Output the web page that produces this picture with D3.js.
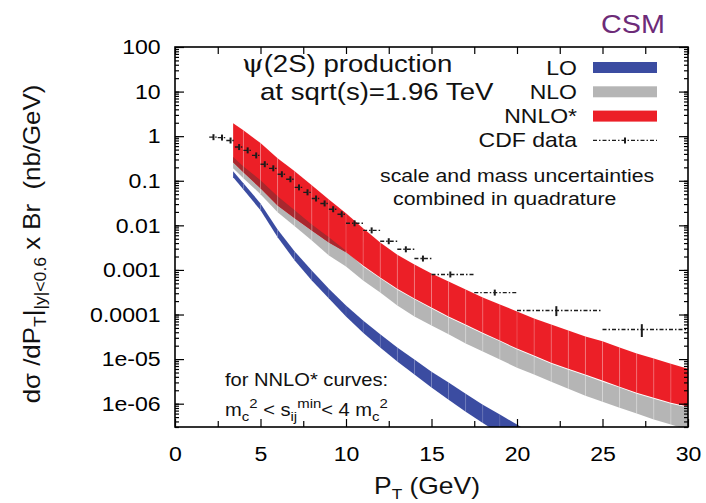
<!DOCTYPE html>
<html>
<head>
<meta charset="utf-8">
<script src="https://cdn.jsdelivr.net/npm/d3@7"></script>
<style>
  body { margin: 0; background: #fff; }
  svg { display: block; font-family: "Liberation Sans", Arial, sans-serif; }
</style>
</head>
<body>
<svg></svg>
<script>
// Size of the picture
const width = 706;
const height = 503;
const sx = 1.15; // the original lettering is a bit wide

// Theory bands (nb/GeV), on a pT grid in GeV
const bandPt = [3.4, 4, 5, 6, 7, 8, 9, 10, 11, 12, 13, 14, 15, 16, 17, 18, 19, 20, 21, 22, 23, 24, 25, 26, 27, 28, 29, 30];
const nnloHi = [1.96, 1.36, 0.70, 0.32, 0.163, 0.079, 0.038, 0.0186, 0.0086, 0.0041, 0.0022, 0.00133, 8.3e-4, 5.5e-4, 3.65e-4, 2.4e-4, 1.68e-4, 1.17e-4, 8.1e-5, 6.0e-5, 4.4e-5, 3.2e-5, 2.5e-5, 1.81e-5, 1.33e-5, 1.03e-5, 7.9e-6, 6.1e-6];
const nnloLo = [0.26, 0.155, 0.068, 0.028, 0.0144, 0.0077, 0.0041, 0.0025, 0.00126, 6.8e-4, 3.8e-4, 2.3e-4, 1.44e-4, 9.0e-5, 6.0e-5, 3.9e-5, 2.6e-5, 1.72e-5, 1.20e-5, 8.3e-6, 6.1e-6, 4.5e-6, 3.3e-6, 2.4e-6, 1.77e-6, 1.36e-6, 1.05e-6, 8.6e-7];
const nloHi = [0.34, 0.21, 0.103, 0.045, 0.0217, 0.0105, 0.0054, 0.0027, 0.0012, 6.5e-4, 3.6e-4, 2.2e-4, 1.37e-4, 8.6e-5, 5.7e-5, 3.7e-5, 2.5e-5, 1.64e-5, 1.14e-5, 7.9e-6, 5.8e-6, 4.3e-6, 3.1e-6, 2.3e-6, 1.68e-6, 1.29e-6, 1.0e-6, 8.2e-7];
const nloLo = [0.19, 0.114, 0.050, 0.0196, 0.0095, 0.0046, 0.0021, 0.0012, 5.8e-4, 3.1e-4, 1.59e-4, 9.0e-5, 5.7e-5, 3.6e-5, 2.23e-5, 1.48e-5, 9.8e-6, 6.4e-6, 4.5e-6, 3.1e-6, 2.17e-6, 1.51e-6, 1.11e-6, 8.1e-7, 6.0e-7, 4.4e-7, 3.4e-7, 2.6e-7];

// LO leaves the frame near 20 GeV
const loPt = [3.4, 4, 5, 6, 7, 8, 9, 10, 11, 12, 13, 14, 15, 16, 17, 18, 19, 20, 21];
const loHi = [0.163, 0.088, 0.031, 0.0081, 0.0026, 9.7e-4, 3.8e-4, 1.59e-4, 7.3e-5, 3.6e-5, 1.81e-5, 9.8e-6, 5.2e-6, 3.0e-6, 1.68e-6, 9.5e-7, 5.7e-7, 3.4e-7, 2.0e-7];
const loLo = [0.12, 0.064, 0.0217, 0.0054, 0.00163, 5.8e-4, 2.3e-4, 9.0e-5, 3.9e-5, 1.81e-5, 8.8e-6, 4.5e-6, 2.3e-6, 1.23e-6, 6.6e-7, 3.7e-7, 2.1e-7, 1.2e-7, 6.8e-8];

// CDF data points with bins and relative errors
const cdfPt = [2.25, 2.75, 3.25, 3.75, 4.25, 4.75, 5.25, 5.75, 6.25, 6.75, 7.25, 7.75, 8.25, 8.75, 9.25, 9.75, 10.5, 11.5, 12.5, 13.5, 14.5, 16.1, 18.7, 22.3, 27.3];
const cdfBinLo = [2, 2.5, 3, 3.5, 4, 4.5, 5, 5.5, 6, 6.5, 7, 7.5, 8, 8.5, 9, 9.5, 10, 11, 12, 13, 14, 15, 17.5, 20, 25];
const cdfBinHi = [2.5, 3, 3.5, 4, 4.5, 5, 5.5, 6, 6.5, 7, 7.5, 8, 8.5, 9, 9.5, 10, 11, 12, 13, 14, 15, 17.5, 20, 25, 30];
const cdfVal = [0.95, 0.93, 0.80, 0.57, 0.48, 0.37, 0.235, 0.19, 0.14, 0.108, 0.071, 0.055, 0.040, 0.031, 0.023, 0.0177, 0.0111, 0.0077, 0.0044, 0.0029, 0.0018, 7.9e-4, 3.1e-4, 1.23e-4, 4.6e-5];
const cdfErr = [0.06, 0.06, 0.06, 0.06, 0.06, 0.06, 0.06, 0.06, 0.06, 0.06, 0.06, 0.06, 0.07, 0.07, 0.07, 0.07, 0.08, 0.08, 0.09, 0.09, 0.1, 0.1, 0.14, 0.25, 0.32];

// Axis ticks
const yTicks = [1e-6, 1e-5, 1e-4, 1e-3, 0.01, 0.1, 1, 10, 100];
const yTickLabels = ["1e-06", "1e-05", "0.0001", "0.001", "0.01", "0.1", "1", "10", "100"];
const xTicks = [0, 5, 10, 15, 20, 25, 30];
const xMinorTicks = [2.5, 7.5, 12.5, 17.5, 22.5, 27.5];

// Legend
const legendNames = ["LO", "NLO", "NNLO*", "CDF data"];
const legendColors = ["#3b4ca1", "#b5b5b5", "#ec1f27", null];

const blue = "#3b4ca1", grey = "#b5b5b5", red = "#ec1f27", darkRed = "#a8282e";

const svg = d3.select("svg")
    .attr("width", width)
    .attr("height", height);

const x = d3.scaleLinear().domain([0, 30]).range([175, 688]);
const y = d3.scaleLog().domain([3e-7, 100]).range([427, 47]);

svg.append("clipPath").attr("id", "frame")
  .append("rect")
    .attr("x", x(0)).attr("y", y(100))
    .attr("width", x(30) - x(0)).attr("height", y(3e-7) - y(100));

const plot = svg.append("g").attr("clip-path", "url(#frame)");

function rowsOf(pts, lo, hi) {
  return pts.map((p, i) => ({ pt: p, lo: lo[i], hi: hi[i] }));
}

const area = d3.area()
    .defined(d => d.hi > d.lo)
    .x(d => x(d.pt))
    .y0(d => y(d.lo))
    .y1(d => y(d.hi));

// one piece per grid step, like the gnuplot filledcurves
function drawBand(rows, color) {
  const g = plot.append("g");
  g.selectAll("path")
    .data(d3.pairs(rows))
    .enter().append("path")
      .attr("d", d => area(d))
      .attr("fill", color);
  return g;
}

function drawSeams(rows, opacity) {
  plot.append("g").selectAll("line")
    .data(rows.slice(1, -1))
    .enter().append("line")
      .attr("x1", d => x(d.pt)).attr("x2", d => x(d.pt))
      .attr("y1", d => y(d.hi)).attr("y2", d => y(d.lo))
      .attr("stroke", "#fff")
      .attr("stroke-opacity", opacity)
      .attr("stroke-width", 0.8);
}

const nloRows = rowsOf(bandPt, nloLo, nloHi);
const nnloRows = rowsOf(bandPt, nnloLo, nnloHi);
// where the NLO and NNLO* bands overlap the red looks darker
const overlapRows = bandPt.map((p, i) => ({
  pt: p,
  lo: Math.max(nloLo[i], nnloLo[i]),
  hi: Math.min(nloHi[i], nnloHi[i])
}));
const loRows = rowsOf(loPt, loLo, loHi);

drawBand(nloRows, grey);
drawBand(nnloRows, red);
plot.append("path").attr("d", area(overlapRows)).attr("fill", darkRed);
drawSeams(nloRows, 0.3);
drawSeams(nnloRows, 0.25);
drawBand(loRows, blue);
drawSeams(loRows, 0.1);

// CDF data
const cdf = cdfPt.map((p, i) => ({ pt: p, a: cdfBinLo[i], b: cdfBinHi[i], v: cdfVal[i], e: cdfErr[i] }));
const cg = plot.append("g").attr("stroke", "#1c1c1c");
cg.selectAll(".hbar")
  .data(cdf)
  .enter().append("line")
    .attr("x1", d => x(d.a)).attr("x2", d => x(d.b))
    .attr("y1", d => y(d.v)).attr("y2", d => y(d.v))
    .attr("stroke-width", 1.4)
    .attr("stroke-dasharray", "4,2,1.5,2");
cg.selectAll(".vbar")
  .data(cdf)
  .enter().append("line")
    .attr("x1", d => x(d.pt)).attr("x2", d => x(d.pt))
    .attr("y1", d => Math.max(y(d.v * (1 - d.e)), y(d.v) + 3))
    .attr("y2", d => Math.min(y(d.v * (1 + d.e)), y(d.v) - 3))
    .attr("stroke-width", 2);

// Axes, ticks pointing inward on all four sides
function styleAxis(g, labels) {
  g.select(".domain").remove();
  g.selectAll("line").attr("stroke", "#000").attr("stroke-width", 1.2);
  g.attr("font-family", null).attr("font-size", 21);
  if (labels) g.selectAll("text").attr("fill", "#000").attr("transform", "scale(1.1,1)");
}

svg.append("g")
    .attr("transform", `translate(${x(0)},0)`)
    .call(d3.axisLeft(y).tickValues(yTicks).tickFormat((d, i) => yTickLabels[i])
      .tickSizeInner(-9).tickSizeOuter(0).tickPadding(13))
    .call(g => styleAxis(g, true));
svg.append("g")
    .attr("transform", `translate(${x(0)},0)`)
    .call(d3.axisLeft(y).tickValues(y.ticks()).tickFormat("").tickSizeInner(-4).tickSizeOuter(0))
    .call(g => styleAxis(g, false));
svg.append("g")
    .attr("transform", `translate(${x(30)},0)`)
    .call(d3.axisRight(y).tickValues(yTicks).tickFormat("").tickSizeInner(-9).tickSizeOuter(0))
    .call(g => styleAxis(g, false));
svg.append("g")
    .attr("transform", `translate(${x(30)},0)`)
    .call(d3.axisRight(y).tickValues(y.ticks()).tickFormat("").tickSizeInner(-4).tickSizeOuter(0))
    .call(g => styleAxis(g, false));

svg.append("g")
    .attr("transform", `translate(0,${y(3e-7)})`)
    .call(d3.axisBottom(x).tickValues(xTicks).tickSizeInner(-8).tickSizeOuter(0).tickPadding(19))
    .call(g => styleAxis(g, true));
svg.append("g")
    .attr("transform", `translate(0,${y(3e-7)})`)
    .call(d3.axisBottom(x).tickValues(xMinorTicks).tickFormat("").tickSizeInner(-6).tickSizeOuter(0))
    .call(g => styleAxis(g, false));
svg.append("g")
    .attr("transform", `translate(0,${y(100)})`)
    .call(d3.axisTop(x).tickValues(xTicks.concat(xMinorTicks)).tickFormat("").tickSizeInner(-7).tickSizeOuter(0))
    .call(g => styleAxis(g, false));

svg.append("rect")
    .attr("x", x(0)).attr("y", y(100))
    .attr("width", x(30) - x(0)).attr("height", y(3e-7) - y(100))
    .attr("fill", "none").attr("stroke", "#000").attr("stroke-width", 1.6);

// Text helper: wide lettering
function label(px, py, size, anchor) {
  return svg.append("text")
      .attr("transform", `translate(${px},${py}) scale(${sx},1)`)
      .attr("font-size", size)
      .attr("text-anchor", anchor || "start")
      .attr("fill", "#111");
}

// Legend
const leg = svg.append("g");
legendNames.forEach((name, i) => {
  const cy = 67.5 + i * 24.3;
  label(577, cy + 7, 20, "end").text(name);
  if (legendColors[i]) {
    leg.append("rect")
        .attr("x", 593).attr("y", cy - 5.5)
        .attr("width", 64).attr("height", 11)
        .attr("fill", legendColors[i]);
  } else {
    leg.append("line")
        .attr("x1", 593).attr("x2", 657).attr("y1", cy).attr("y2", cy)
        .attr("stroke", "#1c1c1c").attr("stroke-width", 1.4)
        .attr("stroke-dasharray", "4,2,1.5,2");
    leg.append("line")
        .attr("x1", 625).attr("x2", 625).attr("y1", cy - 3).attr("y2", cy + 3)
        .attr("stroke", "#1c1c1c").attr("stroke-width", 2);
  }
});

// Titles and notes
const t1 = label(242, 72, 24);
t1.append("tspan").attr("font-family", "DejaVu Serif").text("\u03c8");
t1.append("tspan").text("(2S) production");
label(260, 100, 24).text("at sqrt(s)=1.96 TeV");

label(380, 182, 18.5).text("scale and mass uncertainties");
label(393, 205, 18.5).text("combined in quadrature");

label(225, 386, 17.5).text("for NNLO* curves:");
const n2 = label(225, 416, 17.5);
n2.append("tspan").text("m");
n2.append("tspan").attr("font-size", 13).attr("dy", 5).text("c");
n2.append("tspan").attr("font-size", 13).attr("dy", -13).text("2");
n2.append("tspan").attr("dy", 8).text(" < s");
n2.append("tspan").attr("font-size", 13).attr("dy", 5).text("ij");
n2.append("tspan").attr("font-size", 13).attr("dy", -13).text("min");
n2.append("tspan").attr("dy", 8).text("< 4 m");
n2.append("tspan").attr("font-size", 13).attr("dy", 5).text("c");
n2.append("tspan").attr("font-size", 13).attr("dy", -13).text("2");

label(665, 33, 25, "end").attr("fill", "#6d2b78").text("CSM");

// Axis titles
const xt = label(427, 494, 23, "middle");
xt.append("tspan").text("P");
xt.append("tspan").attr("font-size", 15).attr("dy", 5).text("T");
xt.append("tspan").attr("dy", -5).text(" (GeV)");

const yt = svg.append("text")
    .attr("transform", `translate(40,244) rotate(-90) scale(1.1,1)`)
    .attr("font-size", 23.5)
    .attr("text-anchor", "middle")
    .attr("fill", "#111");
yt.append("tspan").text("d\u03c3 /dP");
yt.append("tspan").attr("font-size", 16).attr("dy", 6).text("T");
yt.append("tspan").attr("dy", -6).text("|");
yt.append("tspan").attr("font-size", 16).attr("dy", 6).text("|y|<0.6");
yt.append("tspan").attr("dy", -6).text(" x Br\u00a0\u00a0(nb/GeV)");
</script>
</body>
</html>
